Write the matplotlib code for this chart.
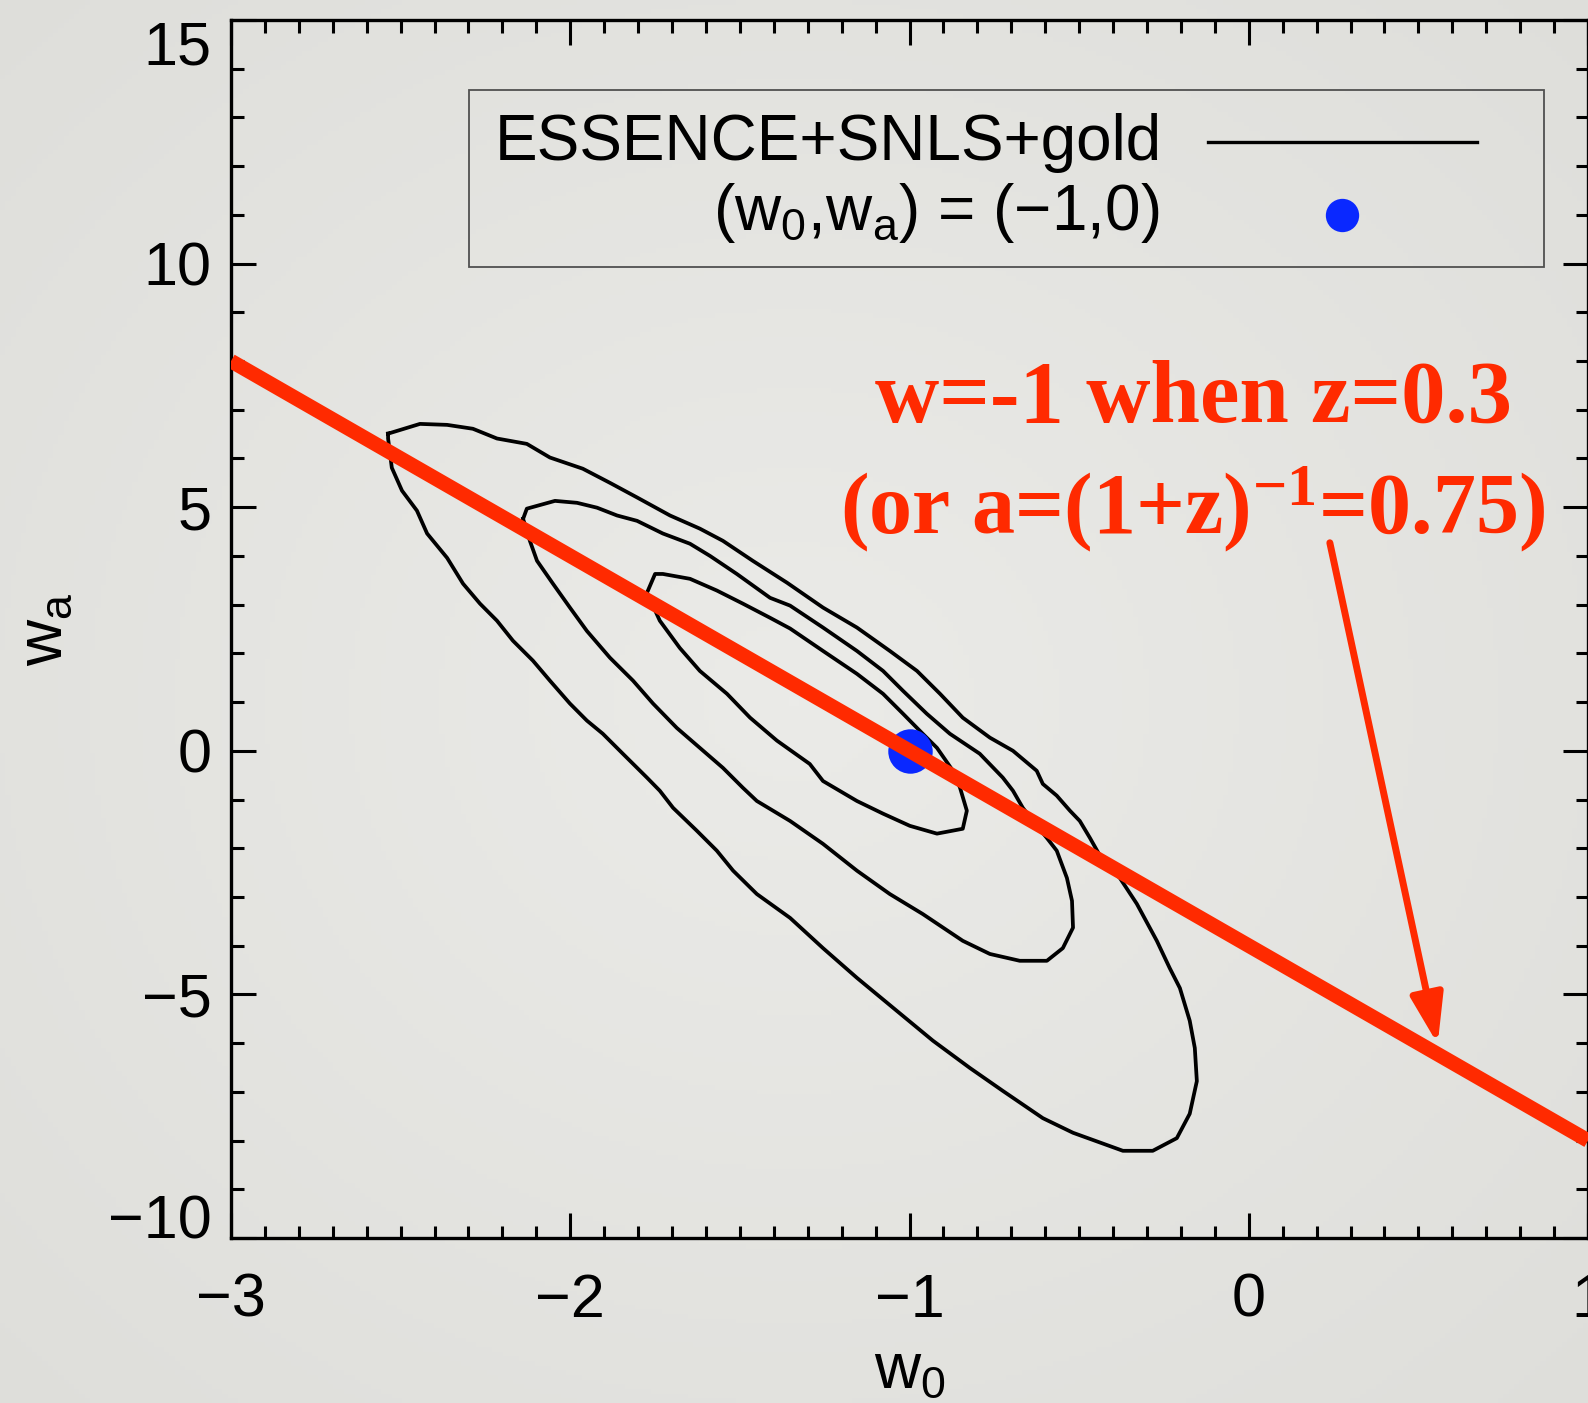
import numpy as np
import matplotlib.pyplot as plt
from matplotlib.colors import LinearSegmentedColormap
from matplotlib.patches import Rectangle
from matplotlib.lines import Line2D
from matplotlib.ticker import MultipleLocator

plt.rcParams['font.family'] = ['Liberation Sans', 'DejaVu Sans']
plt.rcParams['mathtext.default'] = 'regular'

# confidence contours in the (w0, wa) plane
outer_w0 = [-2.537, -2.443, -2.363, -2.287, -2.216, -2.128, -2.060, -1.963, -1.883, -1.803,
            -1.706, -1.618, -1.550, -1.462, -1.361, -1.255, -1.155, -1.058, -0.978, -0.910,
            -0.843, -0.763, -0.695, -0.625, -0.607, -0.566, -0.527, -0.498, -0.468, -0.430,
            -0.380, -0.330, -0.271, -0.233, -0.203, -0.174, -0.159, -0.153, -0.174, -0.212,
            -0.283, -0.371, -0.518, -0.607, -0.725, -0.822, -0.931, -1.037, -1.155, -1.255,
            -1.352, -1.450, -1.520, -1.568, -1.627, -1.697, -1.736, -1.774, -1.845, -1.904,
            -1.951, -2.001, -2.060, -2.110, -2.169, -2.216, -2.266, -2.316, -2.363, -2.422,
            -2.452, -2.496, -2.526, -2.537]
outer_wa = [6.51, 6.71, 6.69, 6.61, 6.41, 6.30, 6.02, 5.79, 5.50, 5.20,
            4.83, 4.56, 4.31, 3.90, 3.45, 2.94, 2.53, 2.05, 1.64, 1.17,
            0.68, 0.27, 0.00, -0.41, -0.68, -0.92, -1.23, -1.44, -1.79, -2.26,
            -2.61, -3.14, -3.90, -4.46, -4.87, -5.54, -6.10, -6.78, -7.45, -7.95,
            -8.21, -8.21, -7.84, -7.54, -6.98, -6.51, -5.95, -5.34, -4.66, -4.05,
            -3.43, -2.94, -2.46, -2.05, -1.64, -1.17, -0.82, -0.55, -0.06, 0.35,
            0.62, 0.97, 1.44, 1.85, 2.26, 2.67, 3.02, 3.43, 3.96, 4.46,
            4.93, 5.34, 5.81, 6.41]

middle_w0 = [-2.139, -2.128, -2.045, -1.980, -1.921, -1.862, -1.803, -1.727, -1.647, -1.588,
             -1.509, -1.411, -1.352, -1.255, -1.155, -1.078, -1.019, -0.949, -0.881, -0.793,
             -0.725, -0.695, -0.666, -0.636, -0.595, -0.566, -0.536, -0.521, -0.518, -0.548,
             -0.595, -0.675, -0.763, -0.843, -0.961, -1.058, -1.155, -1.255, -1.352, -1.450,
             -1.491, -1.550, -1.618, -1.686, -1.756, -1.815, -1.883, -1.951, -2.001, -2.051,
             -2.098, -2.119]
middle_wa = [4.76, 4.97, 5.13, 5.09, 4.99, 4.83, 4.72, 4.46, 4.25, 4.00,
             3.63, 3.14, 2.98, 2.53, 2.05, 1.64, 1.23, 0.76, 0.35, -0.06,
             -0.55, -0.82, -1.17, -1.44, -1.79, -2.05, -2.61, -3.08, -3.63, -4.05,
             -4.31, -4.31, -4.17, -3.90, -3.35, -2.94, -2.46, -1.91, -1.44, -1.03,
             -0.76, -0.35, 0.06, 0.47, 0.97, 1.44, 1.91, 2.46, 2.94, 3.43,
             3.90, 4.31]

inner_w0 = [-1.774, -1.750, -1.727, -1.647, -1.568, -1.491, -1.411, -1.352, -1.255, -1.155,
            -1.078, -1.019, -0.961, -0.919, -0.872, -0.851, -0.831, -0.843, -0.919, -0.999,
            -1.078, -1.155, -1.255, -1.294, -1.391, -1.470, -1.538, -1.618, -1.677, -1.736,
            -1.759]
inner_wa = [3.24, 3.63, 3.63, 3.53, 3.29, 3.02, 2.73, 2.51, 2.05, 1.58,
            1.17, 0.76, 0.35, 0.06, -0.41, -0.76, -1.23, -1.60, -1.70, -1.54,
            -1.29, -1.03, -0.62, -0.27, 0.21, 0.68, 1.17, 1.64, 2.11, 2.67,
            3.02]

# cosmological constant
lcdm_w0 = -1.0
lcdm_wa = 0.0

# w(a) = w0 + (1 - a) wa = -1 at the pivot a = 0.75
pivot_a = 0.75
line_w0 = np.array([-3.0, 1.0])
line_wa = (-1.0 - line_w0) / (1.0 - pivot_a)

arrow_tail = (0.239, 4.27)
arrow_head = (0.557, -6.02)

xticks = [-3, -2, -1, 0, 1]
yticks = [-10, -5, 0, 5, 10, 15]

RED = '#ff2a00'
BLUE = '#0a28ff'

fig = plt.figure(figsize=(15.88, 14.03), dpi=100)

# soft paper-like backdrop
bg = fig.add_axes([0, 0, 1, 1], zorder=-10)
yy, xx = np.mgrid[-1:1:300j, -1:1:300j]
paper = LinearSegmentedColormap.from_list('paper', ['#ebebe8', '#dededa'])
bg.imshow(np.hypot(xx, yy), cmap=paper, vmin=0, vmax=1.45,
          extent=[0, 1, 0, 1], aspect='auto')
bg.axis('off')

ax = fig.add_axes([0.14547, 0.11760, 0.85453, 0.86814])
ax.set_facecolor('none')

for cw0, cwa in [(outer_w0, outer_wa), (middle_w0, middle_wa), (inner_w0, inner_wa)]:
    ax.plot(np.append(cw0, cw0[0]), np.append(cwa, cwa[0]),
            color='black', lw=2.7, zorder=2)

ax.plot(lcdm_w0, lcdm_wa, 'o', color=BLUE, ms=32, mec='none', zorder=3)
ax.plot(line_w0, line_wa, color=RED, lw=10.5, solid_capstyle='butt', zorder=4)

ax.set_xlim(-3, 1)
ax.set_ylim(-10, 15)
ax.set_xticks(xticks)
ax.set_yticks(yticks)
ax.xaxis.set_minor_locator(MultipleLocator(0.1))
ax.yaxis.set_minor_locator(MultipleLocator(1))
ax.tick_params(which='both', direction='in', top=True, right=True, width=2.2, color='black')
ax.tick_params(which='major', length=18, labelsize=44)
ax.tick_params(which='minor', length=9)
ax.tick_params(axis='x', pad=25)
ax.tick_params(axis='y', pad=14)
for sp in ax.spines.values():
    sp.set_linewidth(2.4)

ylabels = ax.get_yticklabels()
ylabels[0].set_verticalalignment('baseline')
ylabels[-1].set_verticalalignment('top')

ax.set_xlabel('w$_0$', fontsize=46, labelpad=8)
ax.set_ylabel('w$_a$', fontsize=46, labelpad=24)

# legend box
ax.add_patch(Rectangle((0.1754, 0.7972), 0.7922, 0.1453, transform=ax.transAxes,
                       fill=False, edgecolor='#505050', lw=1.3, zorder=5))
ax.text(0.6861, 0.8851, 'ESSENCE+SNLS+gold', transform=ax.transAxes,
        ha='right', va='baseline', fontsize=46, zorder=6)
ax.add_line(Line2D([0.720, 0.918], [0.8998, 0.8998], transform=ax.transAxes,
                   color='black', lw=2.4, zorder=6))
ax.text(0.6844, 0.8276, '(w$_0$,w$_a$) = (\u22121,0)', transform=ax.transAxes,
        ha='right', va='baseline', fontsize=46, zorder=6)
ax.plot([0.8187], [0.8399], 'o', transform=ax.transAxes, color=BLUE, ms=24,
        mec='none', zorder=6, clip_on=False)

# annotation
serif = dict(family=['Liberation Serif', 'DejaVu Serif'], weight='bold', color=RED)
ax.text(-0.162, 6.76, 'w=-1 when z=0.3', ha='center', va='baseline', zorder=7,
        fontsize=64, **serif)
ax.text(-0.165, 4.46, '(or a=(1+z)$^{-1}$=0.75)', ha='center', va='baseline', zorder=7,
        fontsize=62, **serif)
ax.annotate('', xy=arrow_head, xytext=arrow_tail,
            arrowprops=dict(arrowstyle='-|>,head_length=0.6,head_width=0.2',
                            mutation_scale=50, color=RED, lw=5,
                            shrinkA=0, shrinkB=0), zorder=7)

fig.savefig('out.png', dpi=100)
